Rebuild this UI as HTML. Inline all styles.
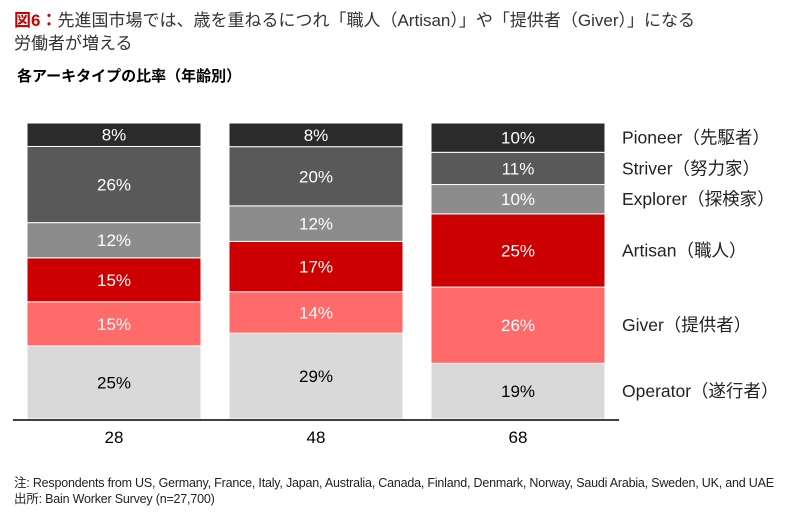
<!DOCTYPE html>
<html><head><meta charset="utf-8"><style>
body{margin:0;background:#fff;width:803px;height:527px;overflow:hidden;font-family:"Liberation Sans","Noto Sans CJK JP",sans-serif}
#t{position:absolute;left:14px;top:9px;font-size:17px;color:#333;line-height:23px}
#st{position:absolute;left:17px;top:65px;font-size:15px;font-weight:bold;color:#000}
#n{position:absolute;left:14px;top:475px;font-size:12.5px;color:#222;line-height:16px;letter-spacing:-0.2px}
svg{position:absolute;left:0;top:0}
</style></head><body>
<div id="t"><span style="color:#cc0000;font-weight:bold">図6：</span>先進国市場では、歳を重ねるにつれ「職人（Artisan）」や「提供者（Giver）」になる<br>労働者が増える</div>
<div id="st">各アーキタイプの比率（年齢別）</div>
<div id="n">注: Respondents from US, Germany, France, Italy, Japan, Australia, Canada, Finland, Denmark, Norway, Saudi Arabia, Sweden, UK, and UAE<br>出所: Bain Worker Survey (n=27,700)</div>
<svg id="c" width="803" height="527"></svg>
<script>
const categories=["28","48","68"];
const seriesNames=["Operator（遂行者）","Giver（提供者）","Artisan（職人）","Explorer（探検家）","Striver（努力家）","Pioneer（先駆者）"];
const operator=[25,29,19];
const giver=[15,14,26];
const artisan=[15,17,25];
const explorer=[12,12,10];
const striver=[26,20,11];
const pioneer=[8,8,10];
const series=[operator,giver,artisan,explorer,striver,pioneer];
const colors=["#d9d9d9","#ff6b6b","#cc0000","#8c8c8c","#595959","#2b2b2b"];
const textColors=["#000","#fff","#fff","#fff","#fff","#fff"];
const svg=document.getElementById('c');const NS="http://www.w3.org/2000/svg";
const base=419,top0=123,x0=27,bw=174,step=202;
function mk(t,a){const e=document.createElementNS(NS,t);for(const k in a)e.setAttribute(k,a[k]);svg.appendChild(e);return e;}
const H=base-top0;
categories.forEach((c,i)=>{
  let tot=0;series.forEach(s=>tot+=s[i]);
  let y=base;const x=x0+i*step;
  series.forEach((s,j)=>{
    const h=s[i]/tot*H;
    const r=mk('rect',{x:x,y:y-h,width:bw,height:h,fill:colors[j],stroke:'#fff','stroke-width':1});
    
    
    const t=mk('text',{x:x+bw/2,y:y-h/2+6,'text-anchor':'middle','font-size':17,fill:textColors[j]});
    t.textContent=s[i]+'%';
    
    
    if(i===categories.length-1){
      const l=mk('text',{x:622,y:y-h/2+6,'font-size':17.5,fill:'#222'});
      l.textContent=seriesNames[j];
      
      
    }
    y-=h;
  });
  const xl=mk('text',{x:x+bw/2,y:443,'text-anchor':'middle','font-size':17,fill:'#000'});
  xl.textContent=c;
  
  
});
const ax=mk('line',{x1:13,x2:619,y1:420,y2:420,stroke:'#000','stroke-width':1.5});


</script>
</body></html>
